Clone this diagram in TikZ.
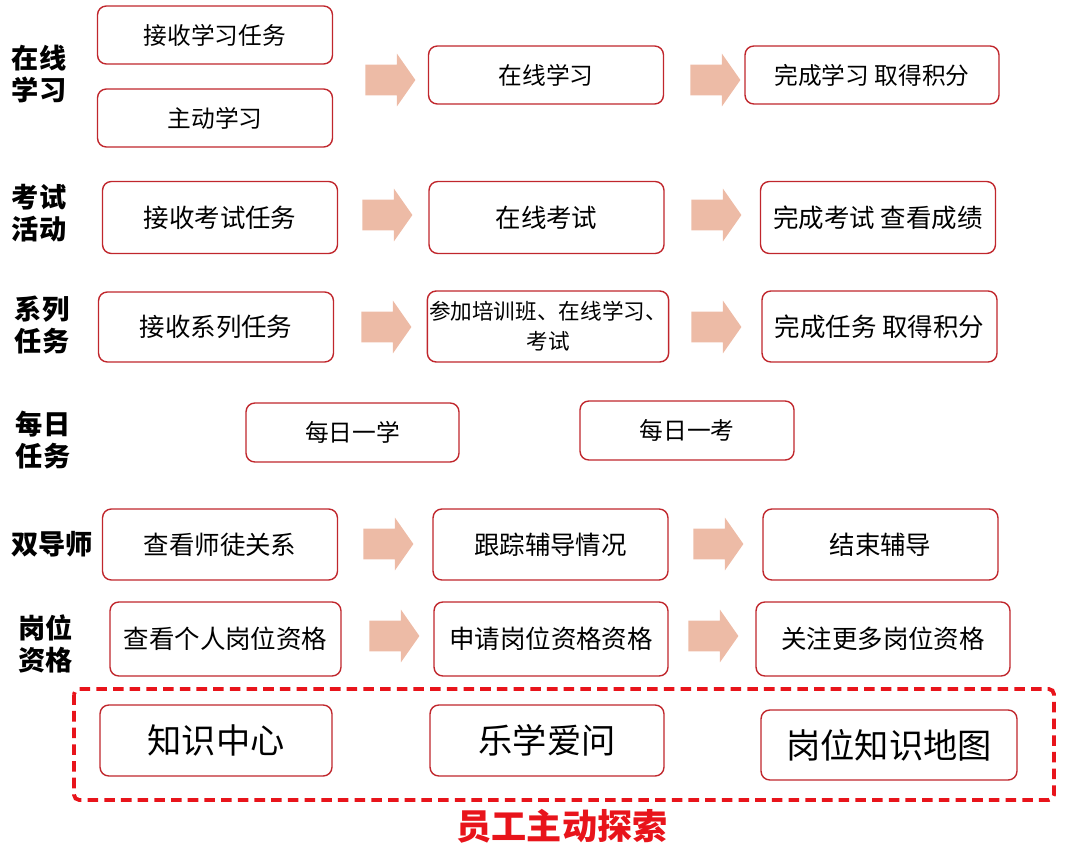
\documentclass[tikz,border=0pt]{standalone}
\usepackage{fontspec}
\setmainfont{Noto Sans CJK SC}
\usetikzlibrary{shapes.arrows}
\definecolor{boxred}{HTML}{C0262C}
\definecolor{arrowfill}{HTML}{EDBBA6}
\definecolor{dashred}{HTML}{E8141B}
\tikzset{
  rbox/.style={draw=boxred, line width=0.8pt, rounded corners=5pt, fill=white,
    minimum width=4.7cm, minimum height=1.16cm, inner sep=1pt, align=center,
    font=\fontsize{13.5}{16}\selectfont},
  rbox2/.style={rbox, minimum height=1.44cm, font=\fontsize{14.5}{17}\selectfont},
  bigbox/.style={rbox, minimum height=1.42cm, font=\fontsize{19.5}{22}\selectfont},
  lab/.style={font=\fontsize{15.5}{18}\selectfont\bfseries, align=center, inner sep=0pt},
  blockarrow/.style={single arrow, fill=arrowfill, draw=none, inner sep=0pt,
    minimum height=1cm, minimum width=1.06cm, single arrow head extend=0.22cm,
    single arrow tip angle=110, text height=0.3cm, text depth=0.3cm}
}
\begin{document}
\begin{tikzpicture}[x=0.02cm, y=-0.02cm]
\useasboundingbox (0,0) rectangle (1080,852);
% row 1
\node[lab] (l1) at (39,74) {在线\\学习};
\node[rbox] (a1) at (215,35) {接收学习任务};
\node[rbox] (b1) at (215,118) {主动学习};
\node[blockarrow] (ar11) at (385,80) {};
\node[rbox] (c1) at (546,75) {在线学习};
\node[blockarrow] (ar12) at (710,80) {};
\node[rbox, minimum width=5.08cm] (d1) at (872,75) {完成学习\ 取得积分};
% row 2
\node[lab] (l2) at (39,213) {考试\\活动};
\node[rbox2] (a2) at (220,217.5) {接收考试任务};
\node[blockarrow] (ar21) at (382,215) {};
\node[rbox2] (c2) at (546.5,217.5) {在线考试};
\node[blockarrow] (ar22) at (711,215) {};
\node[rbox2] (d2) at (878,217.5) {完成考试\ 查看成绩};
% row 3
\node[lab] (l3) at (42,325) {系列\\任务};
\node[rbox2, minimum height=1.40cm] (a3) at (216,327) {接收系列任务};
\node[blockarrow] (ar31) at (381,327) {};
\node[rbox2, minimum height=1.42cm, font=\fontsize{12.3}{17}\selectfont] (c3) at (548,326.5) {参加培训班、在线学习、\\考试};
\node[blockarrow] (ar32) at (711,327) {};
\node[rbox2, minimum height=1.42cm] (d3) at (879.5,326.5) {完成任务\ 取得积分};
% row 4
\node[lab] (l4) at (43,440) {每日\\任务};
\node[rbox, minimum width=4.26cm, minimum height=1.18cm] (a4) at (352.5,432.5) {每日一学};
\node[rbox, minimum width=4.28cm, minimum height=1.18cm] (b4) at (687,430.5) {每日一考};
% row 5
\node[lab] (l5) at (52,544) {双导师};
\node[rbox2, minimum height=1.42cm] (a5) at (220,544.5) {查看师徒关系};
\node[blockarrow] (ar51) at (383,544) {};
\node[rbox2, minimum height=1.42cm] (c5) at (550.5,544.5) {跟踪辅导情况};
\node[blockarrow] (ar52) at (713,544) {};
\node[rbox2, minimum height=1.42cm] (d5) at (880.5,544.5) {结束辅导};
% row 6
\node[lab] (l6) at (46,644) {岗位\\资格};
\node[rbox2, minimum width=4.62cm, minimum height=1.48cm] (a6) at (225.5,639) {查看个人岗位资格};
\node[blockarrow] (ar61) at (389,636) {};
\node[rbox2, minimum width=4.68cm, minimum height=1.48cm] (c6) at (551,639) {申请岗位资格资格};
\node[blockarrow] (ar62) at (708,636) {};
\node[rbox2, minimum width=5.08cm, minimum height=1.48cm] (d6) at (883,639) {关注更多岗位资格};
% bottom
\draw[dashred, line width=2.2pt, dash pattern=on 6pt off 3.5pt, rounded corners=3pt] (74,689) rectangle (1054,800);
\node[bigbox, minimum width=4.64cm] (k1) at (216,740.5) {知识中心};
\node[bigbox, minimum width=4.68cm] (k2) at (547,740.5) {乐学爱问};
\node[bigbox, minimum width=5.12cm, minimum height=1.40cm] (k3) at (889,745) {岗位知识地图};
\node[font=\fontsize{20}{24}\selectfont\bfseries, text=dashred, inner sep=0pt] (t) at (562,826) {员工主动探索};
\end{tikzpicture}
\end{document}
